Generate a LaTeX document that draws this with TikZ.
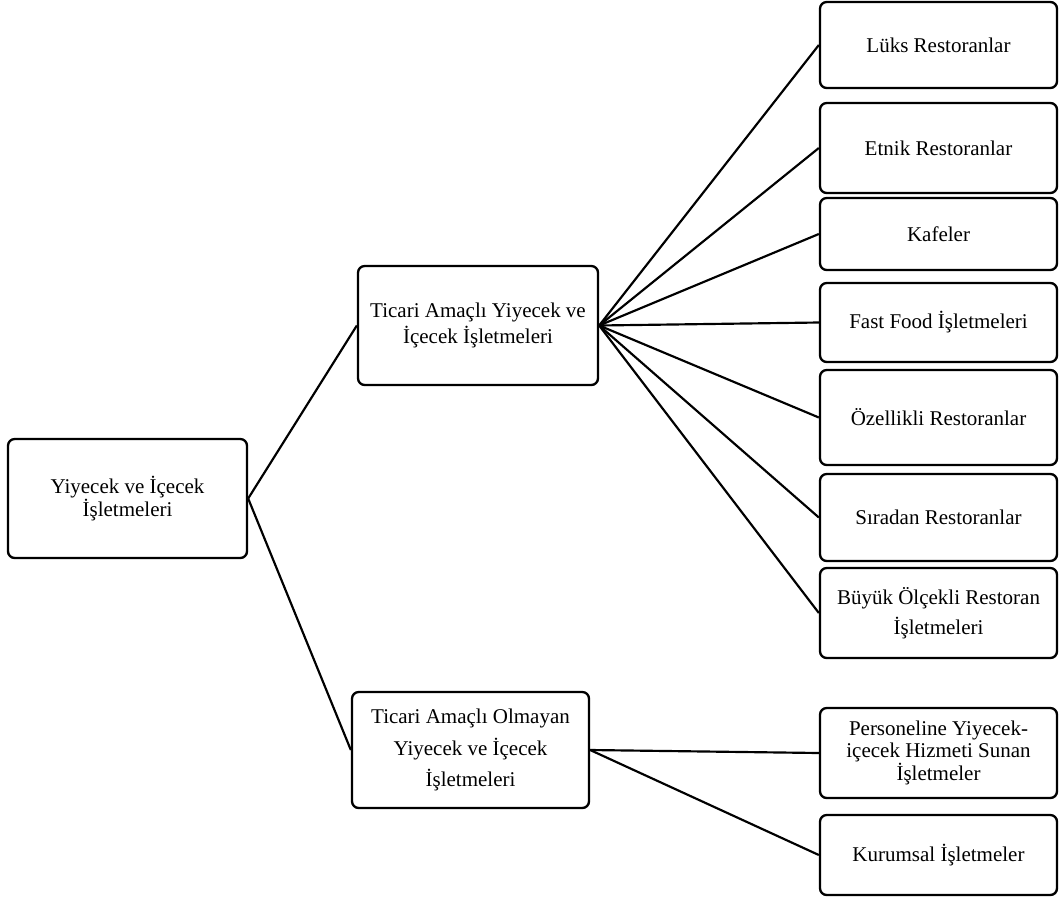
\documentclass[tikz,border=0pt]{standalone}
\usepackage{fontspec}
\setmainfont{Liberation Serif}

\tikzstyle{box}=[draw,rounded corners=4pt,line width=1.4pt,align=center,inner sep=2pt,font=\fontsize{12.6}{13}\selectfont]
\tikzstyle{leaf}=[box,minimum width=142.2pt]
\tikzstyle{link}=[draw,line width=1.3pt]

\begin{document}
\begin{tikzpicture}[x=0.6pt,y=-0.6pt]

\useasboundingbox (0,0) rectangle (1059,899);

\node[box,minimum width=143.4pt,minimum height=71.4pt] (root) at (127.5,498.5) {Yiyecek ve İçecek\\İşletmeleri};

\node[box,minimum width=144pt,minimum height=71.4pt] (ticari) at (478,325.5) {Ticari Amaçlı Yiyecek ve\\[2pt]İçecek İşletmeleri};
\node[box,minimum width=142.2pt,minimum height=69.6pt] (olmayan) at (470.5,750) {Ticari Amaçlı Olmayan\\[5pt]Yiyecek ve İçecek\\[5pt]İşletmeleri};

\node[leaf,minimum height=51.6pt] (luks) at (938.5,45) {Lüks Restoranlar};
\node[leaf,minimum height=54pt] (etnik) at (938.5,148) {Etnik Restoranlar};
\node[leaf,minimum height=43.2pt] (kafe) at (938.5,234) {Kafeler};
\node[leaf,minimum height=47.4pt] (fast) at (938.5,322.5) {Fast Food İşletmeleri};
\node[leaf,minimum height=57pt] (ozel) at (938.5,417.5) {Özellikli Restoranlar};
\node[leaf,minimum height=52.2pt] (sira) at (938.5,517.5) {Sıradan Restoranlar};
\node[leaf,minimum height=54pt] (buyuk) at (938.5,613) {Büyük Ölçekli Restoran\\[4pt]İşletmeleri};

\node[leaf,minimum height=54pt] (pers) at (938.5,753) {Personeline Yiyecek-\\içecek Hizmeti Sunan\\İşletmeler};
\node[leaf,minimum height=48pt] (kurum) at (938.5,855) {Kurumsal İşletmeler};

\path[link] (root.east) -- (ticari.west);
\path[link] (root.east) -- (olmayan.west);

\path[link] (ticari.east) -- (luks.west);
\path[link] (ticari.east) -- (etnik.west);
\path[link] (ticari.east) -- (kafe.west);
\path[link] (ticari.east) -- (fast.west);
\path[link] (ticari.east) -- (ozel.west);
\path[link] (ticari.east) -- (sira.west);
\path[link] (ticari.east) -- (buyuk.west);

\path[link] (olmayan.east) -- (pers.west);
\path[link] (olmayan.east) -- (kurum.west);

\end{tikzpicture}
\end{document}
